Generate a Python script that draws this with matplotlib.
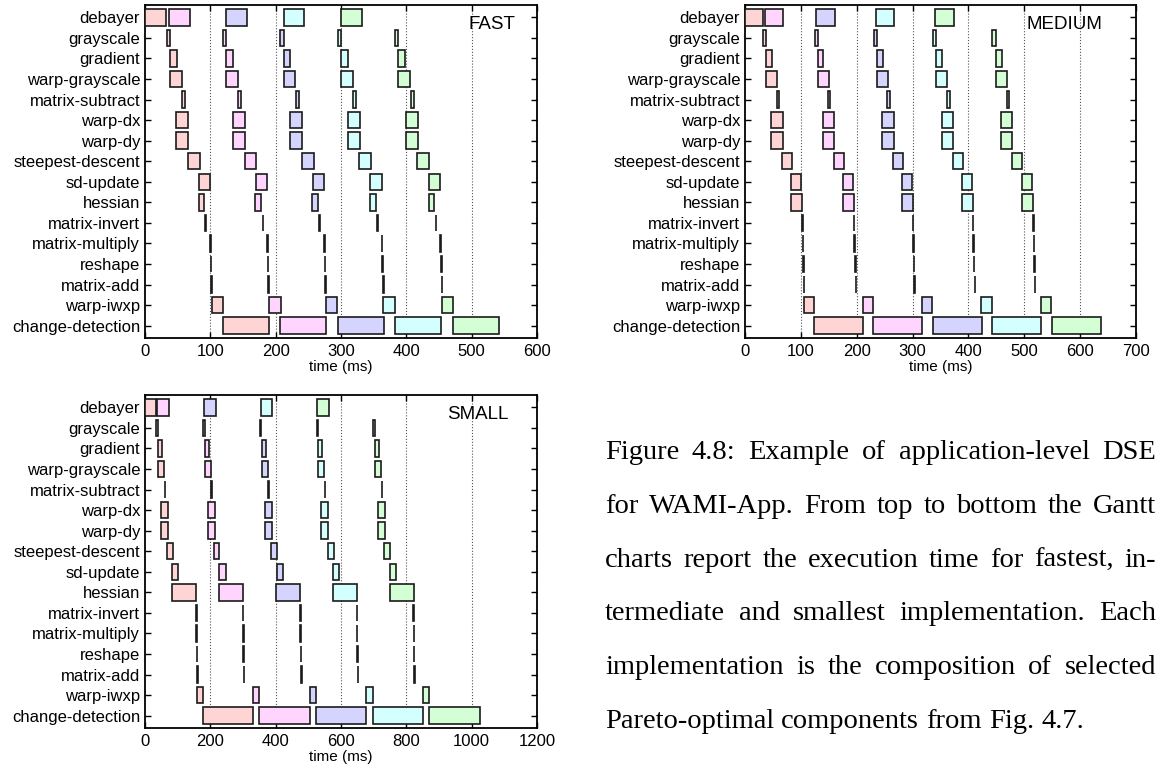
import numpy as np
import matplotlib
matplotlib.use('Agg')
import matplotlib.pyplot as plt

plt.rcParams['font.family'] = ['Liberation Sans', 'DejaVu Sans']

tasks = ['debayer', 'grayscale', 'gradient', 'warp-grayscale', 'matrix-subtract',
         'warp-dx', 'warp-dy', 'steepest-descent', 'sd-update', 'hessian',
         'matrix-invert', 'matrix-multiply', 'reshape', 'matrix-add',
         'warp-iwxp', 'change-detection']

colors = ['#ffd4d4', '#ffd4ff', '#d4d4ff', '#d4ffff', '#d4ffd4']

# start times (ms) of each task, one column per frame
fast_start = [
    [0, 37, 124, 212, 300],
    [33, 119, 207, 295, 383],
    [38, 124, 212, 300, 388],
    [38, 124, 212, 300, 388],
    [57, 143, 231, 319, 407],
    [48, 135, 222, 310, 399],
    [48, 135, 222, 310, 399],
    [66, 153, 241, 328, 417],
    [83, 170, 257, 345, 434],
    [82, 169, 256, 345, 434],
    [92, 180, 267, 355, 445],
    [100, 187, 274, 362, 452],
    [100.5, 188, 275, 363.5, 453],
    [101.5, 189, 276, 364.5, 454],
    [102, 190, 277, 365, 454.5],
    [119.5, 207, 295, 383, 472],
]
fast_dur = [32, 5, 10.5, 18, 4, 18.5, 18.5, 17.5, 17, 9, 1, 1, 1, 1, 17.5, 70.5]

medium_start = [
    [0, 36, 128, 234.5, 341],
    [31.5, 125, 231, 336.5, 443],
    [37.5, 130, 236, 342.5, 449],
    [37.5, 130, 236, 342.5, 449],
    [56.5, 148.5, 255, 362, 468.5],
    [47, 139.5, 246, 352, 458],
    [47, 139.5, 246, 352, 458],
    [67, 159, 265, 372, 478],
    [82.5, 175.5, 281.5, 388.5, 496],
    [82.5, 175.5, 281.5, 388.5, 496],
    [102, 194.5, 300, 407.5, 515.5],
    [103, 195.5, 301, 409, 516.5],
    [104, 197, 302, 409.5, 517.5],
    [105.5, 198, 303, 411.5, 518.5],
    [105.5, 211, 317, 423, 530],
    [124, 230, 336, 443, 549],
]
medium_dur = [32.5, 6, 10.5, 20, 4.5, 20.5, 20.5, 17.5, 18, 19.5, 1, 1, 1, 1, 18.5, 87.5]

small_start = [
    [0, 38, 182, 355, 528],
    [35, 178, 351, 525, 698],
    [39, 183, 357.5, 529, 703],
    [39, 183, 357.5, 529, 703],
    [60, 203, 378, 550.5, 724],
    [49, 193, 368, 539, 713],
    [49, 193, 368, 539, 713],
    [67.5, 210, 387, 560, 733],
    [84, 228, 403, 576, 750],
    [84, 228, 402, 576, 750],
    [156, 299, 475, 647.5, 821],
    [157, 300, 476, 648.5, 822],
    [158, 301, 477, 650, 823],
    [159, 302, 478, 651, 824],
    [159, 332, 504.5, 678, 852],
    [178, 350, 524, 696.5, 870],
]
small_dur = [34, 5, 12, 20, 2, 20.5, 20.5, 18, 18.5, 72, 2, 2, 2, 2, 18.5, 154]

caption = [
    'Figure 4.8: Example of application-level DSE',
    'for WAMI-App. From top to bottom the Gantt',
    'charts report the execution time for fastest, in-',
    'termediate and smallest implementation. Each',
    'implementation is the composition of selected',
    'Pareto-optimal components from Fig. 4.7.',
]

W, H = 1158, 770
fig = plt.figure(figsize=(W / 100, H / 100), dpi=100)


def gantt(rect, starts, durs, xmax, step, label, label_x):
    ax = fig.add_axes(rect)
    starts = np.array(starts, dtype=float)
    durs = np.array(durs, dtype=float)
    y = np.arange(len(tasks))
    for j in range(starts.shape[1]):
        ax.barh(y, durs, left=starts[:, j], height=0.8, color=colors[j],
                edgecolor='#1a1a1a', linewidth=1.2, zorder=3)
    ax.set_xlim(0, xmax)
    ax.set_ylim(15.6, -0.6)
    ax.set_yticks(y)
    ax.set_yticklabels(tasks, fontsize=12)
    ax.set_xticks(np.arange(0, xmax + 1, step))
    ax.tick_params(axis='x', labelsize=12, pad=4)
    ax.tick_params(direction='in', top=True, right=True, length=4, width=1)
    for g in np.arange(step, xmax, step):
        ax.axvline(g, color='#555555', linestyle=':', linewidth=0.8, zorder=1)
    for s in ax.spines.values():
        s.set_linewidth(1.3)
    ax.set_xlabel('time (ms)', fontsize=11, labelpad=1)
    ax.text(label_x, 0.94, label, transform=ax.transAxes, fontsize=13.5,
            va='center', ha='left')
    return ax


gantt([145 / W, 1 - 338 / H, 392 / W, 333 / H], fast_start, fast_dur, 600, 100, 'FAST', 0.824)
gantt([745 / W, 1 - 338 / H, 391 / W, 333 / H], medium_start, medium_dur, 700, 100, 'MEDIUM', 0.721)
gantt([145 / W, 1 - 728 / H, 392 / W, 333 / H], small_start, small_dur, 1200, 200, 'SMALL', 0.770)

# justified caption
fig.canvas.draw()
r = fig.canvas.get_renderer()
cap_font = dict(fontsize=20.5, family='Liberation Serif')


def width_of(s):
    t = fig.text(0, 0, s, **cap_font)
    w = t.get_window_extent(r).width
    t.remove()
    return w


left, right = 605, 1156
space = width_of('a b') - width_of('ab')
for k, line in enumerate(caption):
    words = line.split()
    widths = [width_of(w) for w in words]
    if k < len(caption) - 1:
        gap = (right - left - sum(widths)) / (len(words) - 1)
    else:
        gap = space
    x = left
    yb = 459 + 53.8 * k
    for w, wd in zip(words, widths):
        fig.text(x / W, 1 - yb / H, w, va='baseline', ha='left', **cap_font)
        x += wd + gap

fig.savefig('out.png', dpi=100)
